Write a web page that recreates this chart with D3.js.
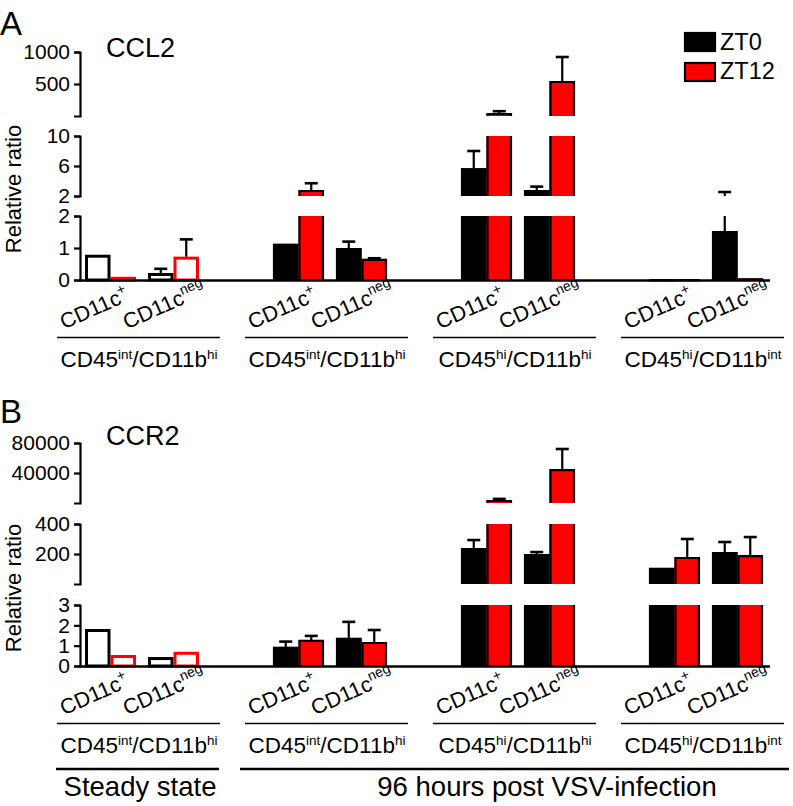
<!DOCTYPE html>
<html><head><meta charset="utf-8">
<script src="https://cdn.jsdelivr.net/npm/d3@7"></script>
<style>
body{margin:0;background:#fff}
svg{display:block;font-family:"Liberation Sans",Arial,Helvetica,sans-serif}
</style>
</head><body><svg id="chart" width="793" height="806"></svg>
<script>
// ---------- data ----------
const groups = ["CD45^{int}/CD11b^{hi}", "CD45^{int}/CD11b^{hi}", "CD45^{hi}/CD11b^{hi}", "CD45^{hi}/CD11b^{int}"];
const cells = ["CD11c^{+}", "CD11c^{neg}"];
const series = ["ZT0", "ZT12"];
const conditions = ["Steady state", "96 hours post VSV-infection"];
// order: group1 CD11c+, group1 CD11cneg, group2 CD11c+, ...
const ccl2ZT0     = [0.79, 0.22, 1.13, 1.00, 5.7, 2.8, 0.02, 1.53];
const ccl2ZT0Err  = [0, 0.13, 0, 0.20, 2.3, 0.45, 0, 1.0];
const ccl2ZT12    = [0.10, 0.73, 2.8, 0.66, 45, 547, 0.03, 0.05];
const ccl2ZT12Err = [0, 0.54, 0.9, 0.02, 30, 375, 0, 0];
const ccr2ZT0     = [1.82, 0.44, 0.94, 1.38, 240, 200, 107, 213];
const ccr2ZT0Err  = [0, 0, 0.26, 0.79, 53, 13, 0, 67];
const ccr2ZT12    = [0.54, 0.70, 1.28, 1.18, 4000, 45300, 180, 193];
const ccr2ZT12Err = [0, 0, 0.20, 0.59, 1500, 26700, 120, 120];
const ccl2Segments = [[0, 1000], [2, 10], [0, 2]];
const ccl2Ticks = [[500, 1000], [2, 6, 10], [0, 1, 2]];
const ccr2Segments = [[0, 80000], [0, 400], [0, 3]];
const ccr2Ticks = [[40000, 80000], [200, 400], [0, 1, 2, 3]];

// ---------- layout ----------
const svg = d3.select("#chart");
const RED = "#ff0000";
const axisX = 80;
const x0 = d3.scaleBand().domain(d3.range(groups.length)).range([85, 85 + 188 * groups.length]);
const x1 = d3.scaleBand().domain(cells).range([0, 126]);
const x2 = d3.scaleBand().domain(series).range([0, 51]);
const bw = x2.bandwidth();

function rich(textSel, str, supSize, supDy) {
  const parts = str.split(/\^\{([^}]*)\}/);
  let prevSup = false;
  parts.forEach((p, i) => {
    if (p === "") return;
    const isSup = i % 2 === 1;
    const t = textSel.append("tspan").text(p);
    if (isSup) { t.attr("font-size", supSize).attr("dy", -supDy); prevSup = true; }
    else if (prevSup) { t.attr("dy", supDy); prevSup = false; }
  });
}

function drawPanel(cfg) {
  const g = svg.append("g");
  const segScales = cfg.segments.map((d, i) => d3.scaleLinear().domain(d).range(cfg.ranges[i]));
  const nSeg = segScales.length;
  const lowerBound = cfg.segments.map((d, i) => i === nSeg - 1 ? -Infinity : cfg.segments[i + 1][1]);

  // y axes (one per segment of the broken axis)
  segScales.forEach((s, i) => {
    const ax = g.append("g").attr("transform", `translate(${axisX},0)`)
      .call(d3.axisLeft(s).tickValues(cfg.ticks[i]).tickSize(6).tickPadding(4).tickFormat(d3.format("d")));
    ax.selectAll("path,line").attr("stroke", "#000").attr("stroke-width", 2.2);
    ax.selectAll("text").attr("font-size", 21).attr("fill", "#000").attr("font-family", "Liberation Sans, Arial, sans-serif");
  });

  // bars
  const dataSets = [[cfg.zt0, cfg.zt0Err], [cfg.zt12, cfg.zt12Err]];
  groups.forEach((grp, gi) => {
    cells.forEach((cell, ci) => {
      series.forEach((ser, si) => {
        const idx = gi * 2 + ci;
        const v = dataSets[si][0][idx];
        const e = dataSets[si][1][idx];
        const x = x0(gi) + x1(cell) + x2(ser);
        const open = gi === 0;
        const col = si === 0 ? "#000" : RED;
        segScales.forEach((s, k) => {
          const [lo, hi] = cfg.segments[k];
          if (!(v > lowerBound[k])) return;
          const yTop = s(Math.min(v, hi));
          const yBot = k === nSeg - 1 ? s(0) : s(lo);
          const isTop = v <= hi;
          if (open) {
            g.append("rect").attr("x", x + 1.5).attr("y", yTop + 1.5)
              .attr("width", bw - 3).attr("height", Math.max(0, yBot - yTop - 1.5))
              .attr("fill", "#fff").attr("stroke", col).attr("stroke-width", 3);
          } else {
            g.append("rect").attr("x", x).attr("y", yTop).attr("width", bw).attr("height", yBot - yTop)
              .attr("fill", col);
            const p = d3.path();
            p.moveTo(x + 1, yBot); p.lineTo(x + 1, yTop + (isTop ? 1 : 0));
            if (isTop) p.lineTo(x + bw - 1, yTop + 1); else p.moveTo(x + bw - 1, yTop);
            p.lineTo(x + bw - 1, yBot);
            g.append("path").attr("d", p.toString()).attr("fill", "none")
              .attr("stroke", "#000").attr("stroke-width", 2.2);
          }
        });
        // error bars
        if (e > 0) {
          const t = v + e;
          const cx = x + bw / 2;
          segScales.forEach((s, k) => {
            const [lo, hi] = cfg.segments[k];
            if (!(t > lowerBound[k]) || v >= hi) return;
            const yStart = v > lowerBound[k] ? s(v) : s(lo);
            const yEnd = s(Math.min(t, hi));
            g.append("line").attr("x1", cx).attr("x2", cx).attr("y1", yStart).attr("y2", yEnd)
              .attr("stroke", "#000").attr("stroke-width", 2.2);
            if (t <= hi || k === 0) {
              g.append("line").attr("x1", cx - 6.5).attr("x2", cx + 6.5).attr("y1", yEnd).attr("y2", yEnd)
                .attr("stroke", "#000").attr("stroke-width", 2.6);
            }
          });
        }
      });
    });
  });

  // x axis line
  g.append("line").attr("x1", axisX - 1).attr("x2", 770).attr("y1", cfg.axisY).attr("y2", cfg.axisY)
    .attr("stroke", "#000").attr("stroke-width", 2.4);

  // category labels
  groups.forEach((grp, gi) => {
    cells.forEach(cell => {
      const lx = x0(gi) + x1(cell) - 21, ly = cfg.axisY + 49;
      const t = g.append("text").attr("transform", `translate(${lx},${ly}) rotate(-24)`)
        .attr("font-size", 21.5);
      rich(t, cell, 14, 9);
    });
    const gx = x0(gi);
    g.append("line").attr("x1", gx - 28).attr("x2", gx + 135).attr("y1", cfg.axisY + 57).attr("y2", cfg.axisY + 57)
      .attr("stroke", "#000").attr("stroke-width", 1.6);
    const t = g.append("text").attr("x", gx + 54).attr("y", cfg.axisY + 86.5)
      .attr("text-anchor", "middle").attr("font-size", 22.5);
    rich(t, grp, 13.5, 8);
  });

  // y label
  g.append("text").attr("transform", `translate(21,${cfg.ylabelY}) rotate(-90)`)
    .attr("text-anchor", "middle").attr("font-size", 22).text("Relative ratio");
  // panel letter and title
  g.append("text").attr("x", 0).attr("y", cfg.letterY).attr("font-size", 33).text(cfg.letter);
  g.append("text").attr("x", 106).attr("y", cfg.titleY).attr("font-size", 27).text(cfg.title);
  return g;
}

drawPanel({
  letter: "A", title: "CCL2", letterY: 35, titleY: 57, ylabelY: 189,
  segments: ccl2Segments, ticks: ccl2Ticks,
  ranges: [[116, 52], [196, 136], [280, 216]], axisY: 280.5,
  zt0: ccl2ZT0, zt0Err: ccl2ZT0Err, zt12: ccl2ZT12, zt12Err: ccl2ZT12Err
});
drawPanel({
  letter: "B", title: "CCR2", letterY: 423, titleY: 445, ylabelY: 588,
  segments: ccr2Segments, ticks: ccr2Ticks,
  ranges: [[503, 443], [584, 524], [666, 605]], axisY: 666.5,
  zt0: ccr2ZT0, zt0Err: ccr2ZT0Err, zt12: ccr2ZT12, zt12Err: ccr2ZT12Err
});

// legend
const legend = svg.append("g");
series.forEach((s, i) => {
  legend.append("rect").attr("x", 685).attr("y", 33 + i * 30).attr("width", 30).attr("height", 18)
    .attr("fill", i === 0 ? "#000" : RED).attr("stroke", "#000").attr("stroke-width", 2.2);
  legend.append("text").attr("x", 720).attr("y", 50 + i * 29).attr("font-size", 23.5).text(s);
});

// condition labels
svg.append("line").attr("x1", 56).attr("x2", 219).attr("y1", 769).attr("y2", 769).attr("stroke", "#000").attr("stroke-width", 2.4);
svg.append("line").attr("x1", 240).attr("x2", 789).attr("y1", 769).attr("y2", 769).attr("stroke", "#000").attr("stroke-width", 2.4);
svg.append("text").attr("x", 140).attr("y", 796).attr("text-anchor", "middle").attr("font-size", 27.5).text(conditions[0]);
svg.append("text").attr("x", 547).attr("y", 796).attr("text-anchor", "middle").attr("font-size", 27.5).text(conditions[1]);
</script>
</body></html>
